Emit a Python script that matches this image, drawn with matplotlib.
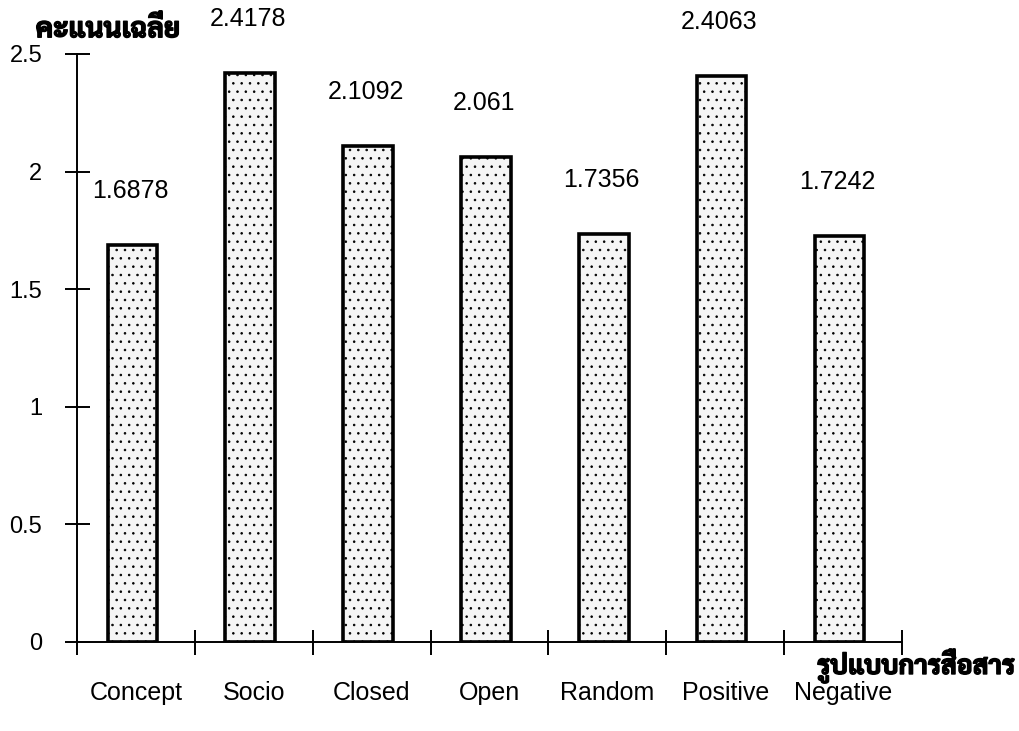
import numpy as np
import matplotlib
matplotlib.use("Agg")
import matplotlib.pyplot as plt
import matplotlib.patheffects as pe

plt.rcParams['font.family'] = ['Liberation Sans', 'Sarabun', 'Noto Sans Thai', 'DejaVu Sans']
plt.rcParams['hatch.color'] = '#ababab'
plt.rcParams['hatch.linewidth'] = 0.6

# ข้อมูล: คะแนนเฉลี่ยตามรูปแบบการสื่อสาร
categories = ["Concept", "Socio", "Closed", "Open", "Random", "Positive", "Negative"]
scores = [1.6878, 2.4178, 2.1092, 2.061, 1.7356, 2.4063, 1.7242]
score_labels = ["1.6878", "2.4178", "2.1092", "2.061", "1.7356", "2.4063", "1.7242"]
yticks = [0, 0.5, 1, 1.5, 2, 2.5]
ytick_labels = ["0", "0.5", "1", "1.5", "2", "2.5"]

fig = plt.figure(figsize=(10.19, 7.31), dpi=100)
W, H = 1019, 731
ax = fig.add_axes([77 / W, (H - 642) / H, (902 - 77) / W, (642 - 54) / H])

x = np.arange(len(categories))
ax.bar(x - 0.03, scores, width=0.42, color='#f5f5f5', edgecolor='black',
       linewidth=2.6, hatch='..', zorder=2)

for xi, v, lab in zip(x, scores, score_labels):
    ax.text(xi - 0.05, v + 0.23, lab, ha='center', va='center', fontsize=18)

ax.set_xlim(-0.5, len(categories) - 0.5)
ax.set_ylim(0, 2.5)

# tick marks at the category boundaries, labels at the centers
ax.set_xticks(np.arange(len(categories) + 1) - 0.5)
ax.set_xticklabels([])
ax.set_xticks(x, minor=True)
ax.set_xticklabels(categories, minor=True, fontsize=18)
ax.tick_params(axis='x', which='major', direction='inout', length=18, width=1.4)
ax.tick_params(axis='x', which='minor', length=0, pad=28)

ax.set_yticks(yticks)
ax.set_yticklabels(ytick_labels, fontsize=17)
ax.tick_params(axis='y', direction='inout', length=18, width=1.4, pad=16)

for s in ['top', 'right']:
    ax.spines[s].set_visible(False)
ax.spines['left'].set_linewidth(1.4)
ax.spines['bottom'].set_linewidth(1.4)

thai_font = ['Sarabun', 'Noto Sans Thai', 'DejaVu Sans']
heavy = [pe.withStroke(linewidth=1.0, foreground='black')]
fig.text(108 / W, 1 - 30 / H, "คะแนนเฉลี่ย", family=thai_font,
         fontweight='bold', fontsize=20, ha='center', va='center', path_effects=heavy)
fig.text(1015 / W, 1 - 684 / H, "รูปแบบการสื่อสาร", family=thai_font,
         fontweight='bold', fontsize=19, ha='right', va='bottom', path_effects=heavy)

fig.savefig("out.png")
